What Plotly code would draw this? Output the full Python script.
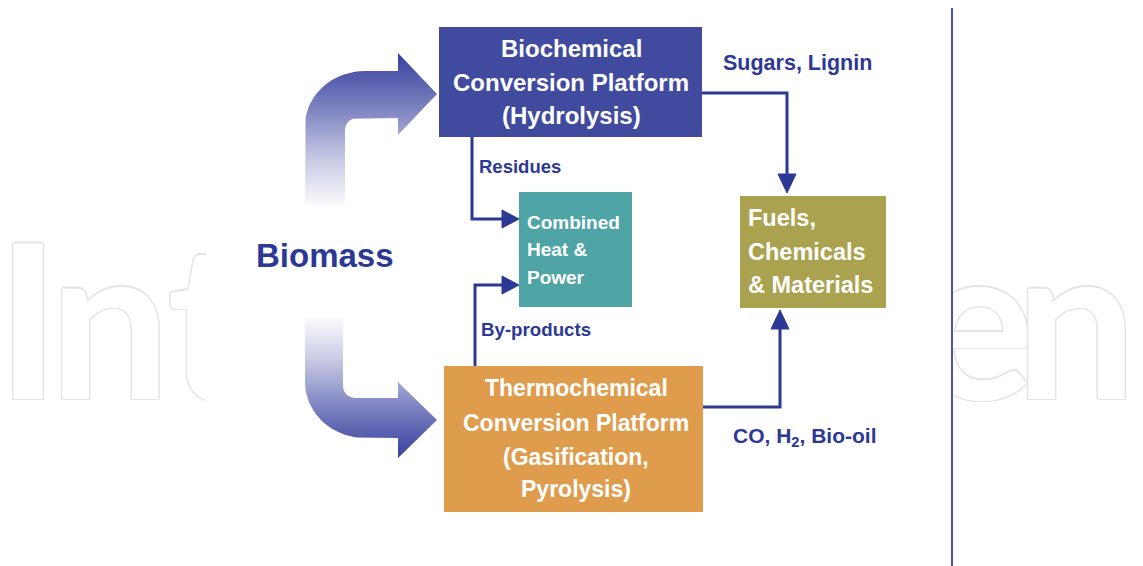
import numpy as np
import plotly.graph_objects as go

W, H = 1143, 566
OFF = 8  # page body margin: keep drawing coordinates equal to window pixels

# ---------------- content ----------------
source_label = "Biomass"
biochem_lines = ["Biochemical", "Conversion Platform", "(Hydrolysis)"]
thermo_lines = ["Thermochemical", "Conversion Platform", "(Gasification,", "Pyrolysis)"]
chp_lines = ["Combined", "Heat &", "Power"]
products_lines = ["Fuels,", "Chemicals", "& Materials"]
flow_labels = ["Residues", "By-products", "Sugars, Lignin", "CO, H<sub>2</sub>, Bio-oil"]
watermark_left = ["I", "n", "t"]
watermark_right = ["e", "n"]

# ---------------- styling / geometry ----------------
NAVY = "#2c3994"
BOX_COL = {"bio": "#404b9f", "thermo": "#e09c4d", "chp": "#4fa5a6", "prod": "#aba250"}
BOX_RECT = {"bio": (439, 27, 702, 137), "thermo": (444, 366, 703, 512),
            "chp": (519, 192, 632, 307), "prod": (740, 196, 886, 308)}
FONT = "Liberation Sans, Arial, sans-serif"

fig = go.Figure()

# ---- watermark (faint outlined letters, clipped by two side panels) ----
outline = ", ".join(f"{dx}px {dy}px 0 #e4e4e4" for dx, dy in
                    [(1.5, 0), (-1.5, 0), (0, 1.5), (0, -1.5), (1, 1), (-1, -1), (1, -1), (-1, 1)])
wm_font = dict(family="Lato", size=215, color="white", weight=700, shadow=outline)
fig.add_trace(go.Scatter(x=[28, 110, 207], y=[345] * 3, text=watermark_left, mode="text",
                         textposition="middle center", cliponaxis=True, hoverinfo="skip",
                         textfont=wm_font, xaxis="x2", yaxis="y2", showlegend=False))
fig.add_trace(go.Scatter(x=[977, 1076], y=[345] * 2, text=watermark_right, mode="text",
                         textposition="middle center", cliponaxis=True, hoverinfo="skip",
                         textfont=wm_font, xaxis="x3", yaxis="y3", showlegend=False))


# ---- curved gradient arrows ----
def arc(cx, cy, rx, ry, a0, a1, n=24):
    t = np.linspace(np.radians(a0), np.radians(a1), n)
    return list(cx + rx * np.cos(t)), list(cy + ry * np.sin(t))


# upper arrow (to biochemical)
xs, ys = [305, 305], [205, 126]
ax_, ay_ = arc(365, 126, 60, 55, 180, 270)
xs += ax_; ys += ay_
xs += [398, 398, 437, 398, 398, 357]
ys += [71, 53, 94, 135, 118, 118]
ax_, ay_ = arc(357, 130, 12, 12, 270, 180)
xs += ax_; ys += ay_
xs += [345, 345]; ys += [130, 205]
fig.add_trace(go.Scatter(x=xs, y=ys, mode="lines", fill="toself", line=dict(width=0),
                         fillgradient=dict(type="vertical", start=55, stop=206,
                                           colorscale=[[0, "#38429e"], [0.35, "#7c82c0"],
                                                       [0.7, "#c9cbe4"], [1, "#fbfbfd"]]),
                         hoverinfo="skip", showlegend=False))

# lower arrow (to thermochemical)
xs, ys = [305, 343, 343], [318, 318, 386]
ax_, ay_ = arc(355, 386, 12, 12, 180, 90)
xs += ax_; ys += ay_
xs += [398, 398, 437, 398, 398, 365]
ys += [398, 382, 420, 458, 438, 438]
ax_, ay_ = arc(365, 382, 60, 56, 90, 180)
xs += ax_; ys += ay_
xs += [305]; ys += [318]
fig.add_trace(go.Scatter(x=xs, y=ys, mode="lines", fill="toself", line=dict(width=0),
                         fillgradient=dict(type="vertical", start=318, stop=456,
                                           colorscale=[[0, "#fbfbfd"], [0.3, "#c9cbe4"],
                                                       [0.65, "#7c82c0"], [1, "#38429e"]]),
                         hoverinfo="skip", showlegend=False))

shapes = []
# ---- boxes ----
for k, (x0, y0, x1, y1) in BOX_RECT.items():
    shapes.append(dict(type="rect", x0=x0, y0=y0, x1=x1, y1=y1, xref="x", yref="y",
                       fillcolor=BOX_COL[k], line=dict(width=0), layer="above"))


# ---- connectors ----
def poly(pts):
    return "M " + " L ".join(f"{x},{y}" for x, y in pts)


connectors = [
    [(472, 137), (472, 219), (504, 219)],
    [(475, 366), (475, 285), (504, 285)],
    [(702, 93), (787, 93), (787, 176)],
    [(703, 407), (780, 407), (780, 327)],
]
heads = [
    [(502, 210), (519, 219), (502, 228)],
    [(502, 276), (519, 285), (502, 294)],
    [(778, 174), (787, 193), (796, 174)],
    [(771, 329), (780, 310), (789, 329)],
]
for c in connectors:
    shapes.append(dict(type="path", path=poly(c), xref="x", yref="y",
                       line=dict(color=NAVY, width=3), layer="above"))
for h in heads:
    shapes.append(dict(type="path", path=poly(h) + " Z", xref="x", yref="y",
                       fillcolor=NAVY, line=dict(color=NAVY, width=1), layer="above"))

# right-hand vertical rule
shapes.append(dict(type="line", x0=952, x1=952, y0=8, y1=H, xref="x", yref="y",
                   line=dict(color="#4c51b3", width=2), layer="above"))

annotations = []


def label(text, x, y, size, color="white", xanchor="center"):
    annotations.append(dict(text=text, x=x, y=y, xref="x", yref="y", showarrow=False,
                            xanchor=xanchor, yanchor="middle",
                            font=dict(family=FONT, size=size, color=color, weight="bold")))


for t, y in zip(biochem_lines, [48, 82, 115]):
    label(t, 571, y, 24)
for t, y in zip(thermo_lines, [388, 423, 457, 489]):
    label(t, 576, y, 23)
for t, y in zip(chp_lines, [222, 249, 277]):
    label(t, 525, y, 19, xanchor="left")
for t, y in zip(products_lines, [218, 252, 285]):
    label(t, 746, y, 23.5, xanchor="left")

label(source_label, 254, 255, 33, color=NAVY, xanchor="left")
for t, (x, y, s) in zip(flow_labels, [(477, 166, 18.5), (479, 329, 18.7),
                                      (721, 63, 21.5), (731, 437, 21)]):
    label(t, x, y, s, color=NAVY, xanchor="left")

hidden = dict(visible=False, showgrid=False, zeroline=False)
PW, PH = W - OFF, H - OFF
fig.update_layout(
    width=PW, height=PH, margin=dict(l=0, r=0, t=0, b=0),
    paper_bgcolor="white", plot_bgcolor="white", showlegend=False,
    xaxis=dict(range=[OFF, W], domain=[0, 1], **hidden),
    yaxis=dict(range=[H, OFF], domain=[0, 1], **hidden),
    xaxis2=dict(range=[OFF, 206], domain=[0, (206 - OFF) / PW], anchor="y2", **hidden),
    yaxis2=dict(range=[H, OFF], domain=[0, 1], anchor="x2", **hidden),
    xaxis3=dict(range=[952, W], domain=[(952 - OFF) / PW, 1], anchor="y3", **hidden),
    yaxis3=dict(range=[H, OFF], domain=[0, 1], anchor="x3", **hidden),
    shapes=shapes, annotations=annotations,
)

fig.write_html("out.html")
